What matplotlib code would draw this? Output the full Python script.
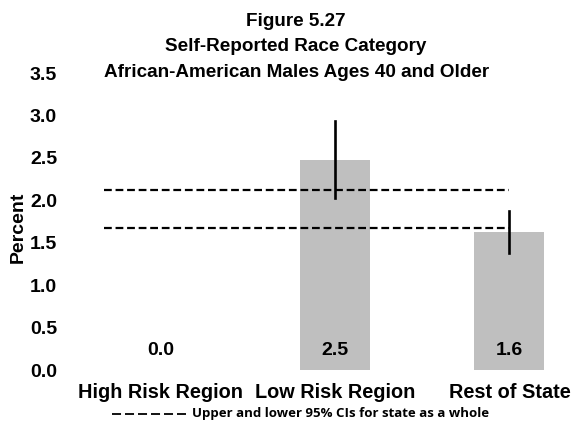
import matplotlib
matplotlib.use("Agg")
import matplotlib.pyplot as plt
from matplotlib.lines import Line2D
import numpy as np

plt.rcParams["font.family"] = ["Liberation Sans", "DejaVu Sans"]

categories = ["High Risk Region", "Low Risk Region", "Rest of State"]
values = [0.0, 2.47, 1.63]
value_labels = ["0.0", "2.5", "1.6"]
ci_lower = [0.0, 2.03, 1.38]
ci_upper = [0.0, 2.94, 1.88]
state_ci = [1.67, 2.12]
yticks = [0.0, 0.5, 1.0, 1.5, 2.0, 2.5, 3.0, 3.5]

fig = plt.figure(figsize=(5.75, 4.25), dpi=100)
ax = fig.add_axes([0.127, 0.1294, 0.85, 0.6986])

x = np.arange(len(categories))
ax.bar(x, values, width=0.4, color="#bfbfbf", zorder=1)

# error bars for the regions that have a value
for xi, v, lo, hi in zip(x, values, ci_lower, ci_upper):
    if v > 0:
        ax.plot([xi, xi], [lo, hi], color="black", linewidth=1.9, zorder=3)

# state-wide confidence band
for level in state_ci:
    ax.plot([-0.32, 2.0], [level, level], color="black", linewidth=1.6,
            dashes=(3.5, 1.7), zorder=2)

for xi, lab in zip(x, value_labels):
    ax.text(xi, 0.235, lab, ha="center", va="center", fontsize=14,
            fontweight="bold")

ax.set_xlim(-0.5, 2.3)
ax.set_ylim(0, 3.5)
ax.set_yticks(yticks)
ax.set_yticklabels([f"{t:.1f}" for t in yticks], fontsize=14, fontweight="bold")
ax.set_xticks(x)
ax.set_xticklabels(categories, fontsize=14.3, fontweight="bold")
ax.tick_params(axis="y", length=0, pad=11.5)
ax.tick_params(axis="x", length=0, pad=9.5)
for spine in ax.spines.values():
    spine.set_visible(False)

fig.text(0.032, 0.464, "Percent", rotation=90, ha="center", va="center",
         fontsize=14, fontweight="bold")

fig.text(0.515, 0.970, "Figure 5.27\nSelf-Reported Race Category\n"
         "African-American Males Ages 40 and Older", ha="center", va="top",
         fontsize=13.6, fontweight="bold", linespacing=1.66)

# footnote key for the dashed lines
fig.add_artist(Line2D([112 / 575, 186 / 575], [0.026, 0.026], color="black",
                      linewidth=1.3, dashes=(5, 2.2), transform=fig.transFigure))
fig.text(192 / 575, 0.026, "Upper and lower 95% CIs for state as a whole",
         ha="left", va="center", fontsize=9.5, fontweight="bold",
         family=["Open Sans", "DejaVu Sans"])

fig.savefig("out.png", dpi=100)
